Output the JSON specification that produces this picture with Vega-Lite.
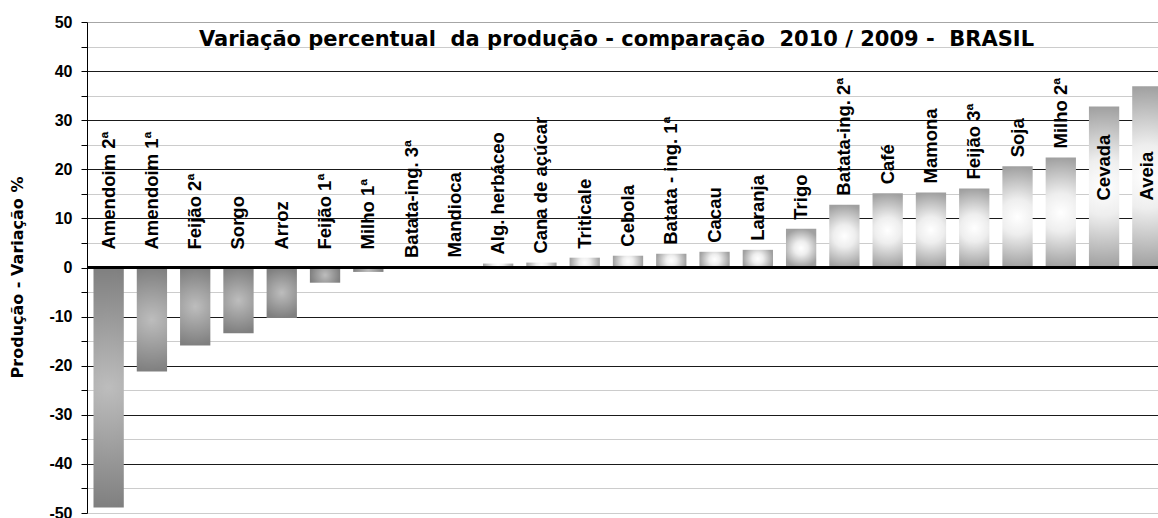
{
  "$schema": "https://vega.github.io/schema/vega-lite/v6.json",
  "autosize": {"type": "none"},
  "padding": {"left": 87, "top": 22, "right": 0, "bottom": 5},
  "width": 1071,
  "height": 491,
  "background": "white",
  "title": {
    "text": "Variação percentual \u00a0da produção - comparação \u00a02010 / 2009 - \u00a0BRASIL",
    "font": "DejaVu Sans",
    "fontSize": 21,
    "fontWeight": "bold",
    "color": "#000000",
    "anchor": "middle",
    "frame": "group",
    "baseline": "alphabetic",
    "offset": 0,
    "dy": 53,
    "dx": -6
  },
  "config": {
    "view": {"stroke": null},
    "axis": {"labelFont": "Liberation Sans", "titleFont": "DejaVu Sans"}
  },
  "data": {
    "values": [
      {"crop": "Amendoim 2ª", "value": -48.9},
      {"crop": "Amendoim 1ª", "value": -21.2},
      {"crop": "Feijão 2ª", "value": -15.9},
      {"crop": "Sorgo", "value": -13.4},
      {"crop": "Arroz", "value": -10.3},
      {"crop": "Feijão 1ª", "value": -3.1},
      {"crop": "Milho 1ª", "value": -0.9},
      {"crop": "Batata-ing. 3ª", "value": 0.1},
      {"crop": "Mandioca", "value": 0.2},
      {"crop": "Alg. herbáceo", "value": 0.8},
      {"crop": "Cana de açúcar", "value": 1.0},
      {"crop": "Triticale", "value": 2.0},
      {"crop": "Cebola", "value": 2.4},
      {"crop": "Batata - ing. 1ª", "value": 2.8},
      {"crop": "Cacau", "value": 3.2},
      {"crop": "Laranja", "value": 3.6},
      {"crop": "Trigo", "value": 7.9},
      {"crop": "Batata-ing. 2ª", "value": 12.8},
      {"crop": "Café", "value": 15.1},
      {"crop": "Mamona", "value": 15.3},
      {"crop": "Feijão 3ª", "value": 16.1},
      {"crop": "Soja", "value": 20.6},
      {"crop": "Milho 2ª", "value": 22.4},
      {"crop": "Cevada", "value": 32.8},
      {"crop": "Aveia", "value": 36.9}
    ]
  },
  "encoding": {
    "x": {
      "field": "crop",
      "type": "nominal",
      "sort": null,
      "axis": null,
      "scale": {"range": [0, 1082], "paddingInner": 0.3, "paddingOuter": 0.15}
    },
    "y": {
      "field": "value",
      "type": "quantitative",
      "scale": {"domain": [-50, 50], "nice": false, "zero": false},
      "axis": {
        "values": [-50, -45, -40, -35, -30, -25, -20, -15, -10, -5, 0, 5, 10, 15, 20, 25, 30, 35, 40, 45, 50],
        "labelExpr": "datum.value % 10 !== 0 ? '' : (datum.value < 0 ? '-' + abs(datum.value) : '' + datum.value)",
        "labelFontSize": 16,
        "labelFontWeight": "bold",
        "labelColor": "#000000",
        "labelPadding": 9,
        "tickSize": 6,
        "tickColor": "#000000",
        "domainColor": "#000000",
        "grid": true,
        "gridColor": {
          "condition": [
            {"test": "datum.value === 50", "value": "#a6a6a6"},
            {"test": "datum.value === -50", "value": "#cccccc"},
            {"test": "datum.value % 10 === 0", "value": "#1a1a1a"}
          ],
          "value": "#cccccc"
        },
        "title": "Produção - Variação %",
        "titleFontSize": 16,
        "titleFontWeight": "bold",
        "titleColor": "#000000",
        "titleAngle": 270,
        "titleAlign": "center",
        "titleBaseline": "bottom",
        "titleX": -62,
        "titleY": 255
      }
    }
  },
  "layer": [
    {
      "transform": [{"filter": "datum.value < 0"}],
      "mark": {
        "type": "bar",
        "fill": {
          "gradient": "radial",
          "x1": 0.5, "y1": 0.5, "r1": 0,
          "x2": 0.5, "y2": 0.5, "r2": 0.5,
          "stops": [
            {"offset": 0, "color": "#bdbdbd"},
            {"offset": 1, "color": "#7f7f7f"}
          ]
        }
      }
    },
    {
      "transform": [{"filter": "datum.value >= 0"}],
      "mark": {
        "type": "bar",
        "fill": {
          "gradient": "radial",
          "x1": 0.5, "y1": 0.5, "r1": 0,
          "x2": 0.5, "y2": 0.5, "r2": 0.5,
          "stops": [
            {"offset": 0, "color": "#ffffff"},
            {"offset": 0.35, "color": "#eeeeee"},
            {"offset": 1, "color": "#a0a0a0"}
          ]
        }
      }
    },
    {
      "mark": {"type": "rule", "color": "#000000", "strokeWidth": 2},
      "encoding": {"x": null, "y": {"datum": 0}}
    },
    {
      "transform": [{"filter": "datum.value < 0"}],
      "mark": {"type": "text", "angle": 270, "align": "left", "baseline": "middle", "dx": 18, "font": "Liberation Sans", "fontSize": 18.5, "fontWeight": "bold", "color": "#000000"},
      "encoding": {"y": {"datum": 0}, "text": {"field": "crop"}}
    },
    {
      "transform": [{"filter": "datum.value >= 0 && datum.value < 30"}],
      "mark": {"type": "text", "angle": 270, "align": "left", "baseline": "middle", "dx": 9, "font": "Liberation Sans", "fontSize": 18.5, "fontWeight": "bold", "color": "#000000"},
      "encoding": {"text": {"field": "crop"}}
    },
    {
      "transform": [{"filter": "datum.value >= 30"}],
      "mark": {"type": "text", "angle": 270, "align": "left", "baseline": "middle", "dx": 67, "font": "Liberation Sans", "fontSize": 18.5, "fontWeight": "bold", "color": "#000000"},
      "encoding": {"y": {"datum": 0}, "text": {"field": "crop"}}
    }
  ]
}
